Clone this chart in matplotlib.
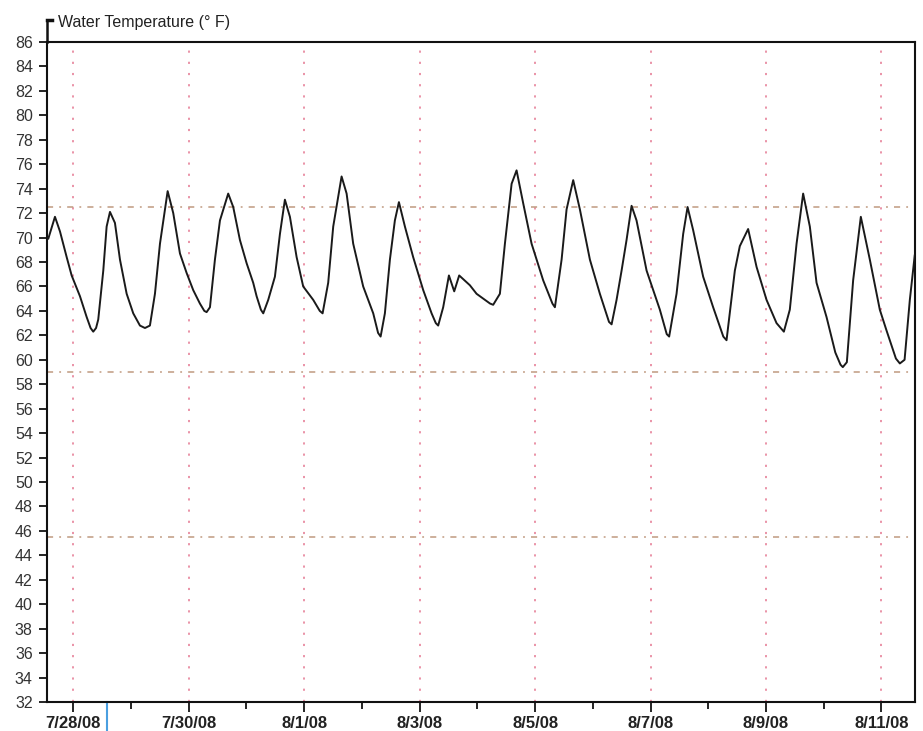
import matplotlib
matplotlib.use("Agg")
import matplotlib.pyplot as plt
import matplotlib.transforms as mtransforms
import numpy as np

plt.rcParams["font.family"] = ["Liberation Sans", "DejaVu Sans"]

# days since 7/28/08 00:00, water temperature in deg F
days = [-0.433, -0.317, -0.230, -0.114, -0.028, 0.116, 0.232, 0.300, 0.346, 0.395, 0.433, 0.520,
        0.578, 0.636, 0.722, 0.809, 0.925, 1.039, 1.155, 1.242, 1.328, 1.415,
        1.502, 1.635, 1.732, 1.848, 1.964, 2.078, 2.194, 2.270, 2.310, 2.368, 2.454,
        2.541, 2.684, 2.771, 2.887, 3.003, 3.117, 3.176, 3.250, 3.291, 3.377, 3.493,
        3.580, 3.666, 3.753, 3.869, 3.983, 4.157, 4.270, 4.319, 4.416, 4.503, 4.648,
        4.735, 4.849, 5.022, 5.196, 5.280, 5.324, 5.398, 5.485, 5.571, 5.641, 5.745,
        5.888, 6.062, 6.207, 6.280, 6.321, 6.408, 6.507, 6.599, 6.685, 6.870, 6.986,
        7.220, 7.274, 7.390, 7.477, 7.593, 7.679, 7.794, 7.939, 8.140, 8.300, 8.343, 8.459,
        8.545, 8.660, 8.776, 8.949, 9.122, 9.280, 9.325, 9.411, 9.498, 9.584, 9.671,
        9.757, 9.931, 10.161, 10.280, 10.322, 10.450, 10.565, 10.641, 10.738, 10.911, 11.084,
        11.260, 11.316, 11.460, 11.546, 11.690, 11.836, 12.009, 12.182, 12.309, 12.412, 12.529,
        12.643, 12.759, 12.875, 13.048, 13.200, 13.290, 13.330, 13.400, 13.509, 13.642, 13.798,
        13.971, 14.087, 14.250, 14.318, 14.400, 14.491, 14.577]
temp_f = [69.9, 71.7, 70.5, 68.4, 66.9, 65.2, 63.5, 62.6, 62.3, 62.6, 63.3, 67.3,
          70.9, 72.1, 71.2, 68.2, 65.4, 63.8, 62.8, 62.6, 62.8, 65.4,
          69.5, 73.8, 72.0, 68.7, 67.1, 65.7, 64.6, 64.0, 63.9, 64.3, 68.2,
          71.4, 73.6, 72.5, 69.8, 67.9, 66.3, 65.2, 64.1, 63.8, 64.9, 66.8,
          70.3, 73.1, 71.7, 68.4, 66.0, 64.9, 64.0, 63.8, 66.3, 70.9, 75.0,
          73.6, 69.5, 66.0, 63.8, 62.2, 61.9, 63.8, 68.2, 71.4, 72.9, 70.9,
          68.4, 65.7, 63.8, 63.0, 62.8, 64.3, 66.9, 65.6, 66.9, 66.1, 65.4,
          64.6, 64.5, 65.4, 69.5, 74.4, 75.5, 72.8, 69.5, 66.5, 64.6, 64.3, 68.2,
          72.3, 74.7, 72.3, 68.2, 65.4, 63.1, 62.9, 64.9, 67.3, 69.8, 72.6,
          71.4, 67.3, 64.1, 62.1, 61.9, 65.4, 70.3, 72.5, 70.6, 66.8, 64.3,
          61.9, 61.6, 67.3, 69.3, 70.7, 67.6, 64.9, 63.0, 62.3, 64.1, 69.5,
          73.6, 70.9, 66.3, 63.5, 60.6, 59.6, 59.4, 59.8, 66.5, 71.7, 68.2,
          64.1, 62.4, 60.1, 59.7, 60.0, 64.9, 68.6]

date_labels = ["7/28/08", "7/30/08", "8/1/08", "8/3/08", "8/5/08", "8/7/08", "8/9/08", "8/11/08"]
label_days = [0, 2, 4, 6, 8, 10, 12, 14]
ref_levels = [72.5, 59.0, 45.5]
cursor_day = 0.578

fig = plt.figure(figsize=(9.23, 7.31), dpi=100)
ax = fig.add_axes([0.0506, 0.0397, 0.9407, 0.9028])

ax.set_xlim(-0.46, 14.58)
ax.set_ylim(32, 86)

for d in label_days:
    ax.axvline(d, color="#e88aa0", linestyle=(0, (1.2, 5)), linewidth=1.3, zorder=1)
for lv in ref_levels:
    ax.axhline(lv, color="#c09a80", linestyle=(0, (4, 4, 1.2, 4)), linewidth=1.1, zorder=1)

ax.plot(days, temp_f, color="#1a1a1a", linewidth=1.4, zorder=3,
        solid_joinstyle="round", solid_capstyle="round")

ax.set_yticks(np.arange(32, 87, 2))
ax.set_xticks(label_days)
ax.set_xticklabels(date_labels, fontweight="bold", fontsize=12, color="#222222")
ax.set_xticks([d + 1 for d in label_days[:-1]], minor=True)
ax.tick_params(axis="y", direction="out", length=6, width=1.2, labelsize=11.5,
               labelcolor="#333333", pad=4)
ax.tick_params(axis="x", which="major", direction="out", length=7, width=1.2, pad=3)
ax.tick_params(axis="x", which="minor", direction="out", length=5, width=1.2)

for side in ["left", "bottom", "top", "right"]:
    ax.spines[side].set_linewidth(1.5)
    ax.spines[side].set_color("#111111")

# left spine continues up to the axis title
ax.plot([0, 0], [1, 1.034], transform=ax.transAxes, color="#111111",
        linewidth=1.8, clip_on=False)
ax.plot([0, 0.006], [1.033, 1.033], transform=ax.transAxes, color="#111111",
        linewidth=2.5, clip_on=False)
fig.text(58 / 923, 1 - 22 / 731, "Water Temperature (° F)", fontsize=11.5,
         color="#222222", va="center", ha="left")

# cursor marker below the axis
trans = mtransforms.blended_transform_factory(ax.transData, fig.transFigure)
ax.plot([cursor_day, cursor_day], [0, 0.0397], transform=trans, color="#4a9fe0",
        linewidth=1.5, clip_on=False)

fig.savefig("out.png", dpi=100)
